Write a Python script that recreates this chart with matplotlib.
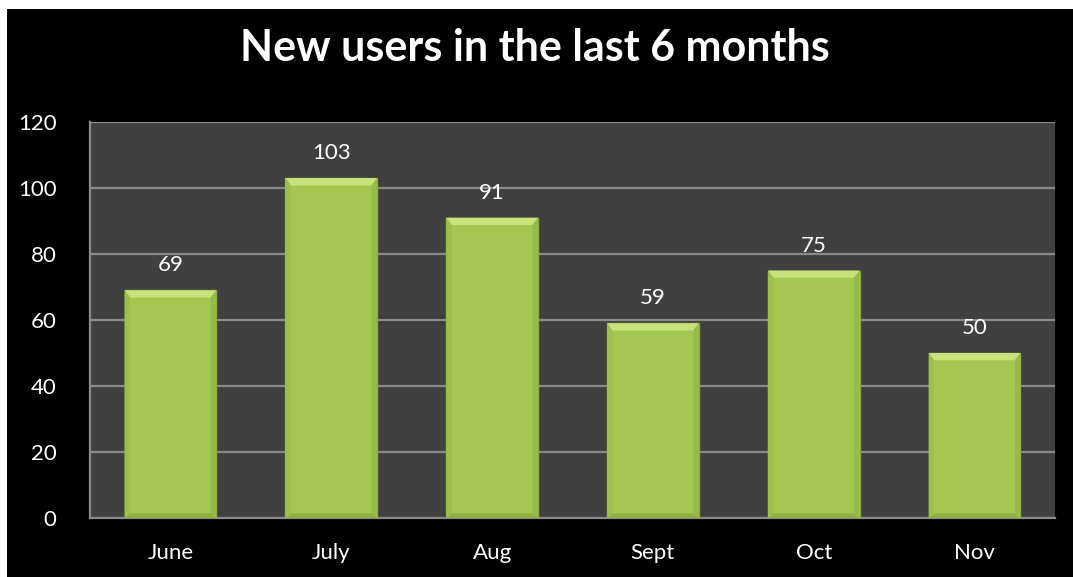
import matplotlib.pyplot as plt
from matplotlib.patches import Rectangle, Polygon

months = ["June", "July", "Aug", "Sept", "Oct", "Nov"]
new_users = [69, 103, 91, 59, 75, 50]
yticks = [0, 20, 40, 60, 80, 100, 120]

FONT = "Lato"
W, H = 1073, 577
fig = plt.figure(figsize=(W / 100, H / 100), dpi=100, facecolor="white")
# black chart background with a thin white strip top/left
fig.patches.append(Rectangle((7 / W, 0), 1 - 7 / W, 1 - 9 / H, transform=fig.transFigure,
                             facecolor="black", edgecolor="none", zorder=-1))

ax = fig.add_axes([90 / W, 1 - 518 / H, (1055 - 90) / W, (518 - 122) / H])
ax.set_facecolor("#404040")

x = list(range(len(months)))
bw = 0.57
bars = ax.bar(x, new_users, width=bw, color="#a3c750", edgecolor="#8aac3e",
              linewidth=1, zorder=3)

# bevel on each bar
for b in bars:
    x0, x1 = b.get_x(), b.get_x() + b.get_width()
    top = b.get_height()
    dx = b.get_width() * 0.06
    dy = 2.2
    ax.add_patch(Polygon([(x0, top), (x1, top), (x1 - dx, top - dy), (x0 + dx, top - dy)],
                         closed=True, facecolor="#c9e27e", edgecolor="none", zorder=4))
    ax.add_patch(Polygon([(x0, 0), (x1, 0), (x1 - dx, dy * 0.6), (x0 + dx, dy * 0.6)],
                         closed=True, facecolor="#8faf42", edgecolor="none", zorder=4))
    ax.add_patch(Polygon([(x0, 0), (x0 + dx, dy * 0.6), (x0 + dx, top - dy), (x0, top)],
                         closed=True, facecolor="#9cc04b", edgecolor="none", zorder=4))
    ax.add_patch(Polygon([(x1, 0), (x1 - dx, dy * 0.6), (x1 - dx, top - dy), (x1, top)],
                         closed=True, facecolor="#98bb48", edgecolor="none", zorder=4))
    ax.text(b.get_x() + b.get_width() / 2, top + 4.5, str(top), ha="center", va="bottom",
            color="white", fontsize=16, fontfamily=FONT, zorder=5)

ax.set_xlim(-0.5, len(months) - 0.5)
ax.set_ylim(0, 120)
ax.set_yticks(yticks)
ax.set_xticks(x)
ax.set_xticklabels(months)
ax.grid(axis="y", color="#8a8a8a", linewidth=1.6, zorder=1)
ax.tick_params(colors="white", labelsize=16, length=0)
for lab in ax.get_xticklabels() + ax.get_yticklabels():
    lab.set_fontfamily(FONT)
ax.tick_params(axis="y", pad=24)
ax.tick_params(axis="x", pad=18)

for side in ["top", "right"]:
    ax.spines[side].set_visible(False)
for side in ["left", "bottom"]:
    ax.spines[side].set_color("#8a8a8a")
    ax.spines[side].set_linewidth(1.6)

fig.text(535 / W, 1 - 48 / H, "New users in the last 6 months", ha="center",
         va="center", color="white", fontsize=31, fontweight="bold", fontfamily=FONT)

fig.savefig("out.png", dpi=100, facecolor=fig.get_facecolor())
